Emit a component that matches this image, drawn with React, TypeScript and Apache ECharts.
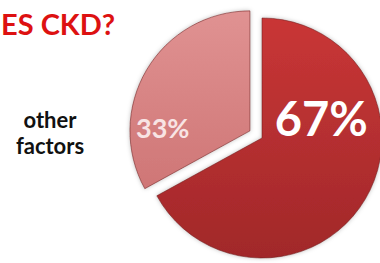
import React, { useEffect, useRef } from "react";
import * as echarts from "echarts";

const categories = ["CKD factor", "other factors"];
const values = [67, 33];
const sideLabel = ["other", "factors"];
const titleText = "ES CKD?";

export default function App() {
  const ref = useRef<HTMLDivElement>(null);
  useEffect(() => {
    if (!ref.current) return;
    const chart = echarts.init(ref.current, null, { renderer: "svg" });
    const labelShift = [
      { dx: 5, dy: -52 },
      { dx: -33, dy: 29 },
    ];
    const fontSizes = [47, 27];
    const fills = [
      new echarts.graphic.LinearGradient(0, 0, 0, 1, [
        { offset: 0, color: "#C93636" },
        { offset: 1, color: "#A1282A" },
      ]),
      new echarts.graphic.LinearGradient(0, 0, 0, 1, [
        { offset: 0, color: "#E09292" },
        { offset: 1, color: "#CF7676" },
      ]),
    ];
    const total = values.reduce((a, b) => a + b, 0);
    chart.setOption({
      animation: false,
      graphic: [
        {
          type: "text",
          left: 1,
          top: 9,
          style: {
            text: titleText,
            fill: "#DD1111",
            font: "bold 29px Lato, 'Open Sans', sans-serif",
          },
        },
        {
          type: "text",
          x: 50,
          y: 106,
          style: {
            text: sideLabel.join("\n"),
            fill: "#111111",
            font: "bold 22px Lato, 'Open Sans', sans-serif",
            lineHeight: 26,
            align: "center",
          },
        },
      ],
      series: [
        {
          type: "pie",
          center: [262, 138],
          radius: 120,
          startAngle: 90,
          clockwise: true,
          selectedMode: "single",
          selectedOffset: 14,
          emphasis: { disabled: true },
          itemStyle: {
            borderColor: "rgba(110,30,30,0.55)",
            borderWidth: 1,
            shadowBlur: 4,
            shadowColor: "rgba(0,0,0,0.25)",
          },
          labelLine: { show: false },
          label: {
            show: true,
            position: "inside",
            color: "#FFFFFF",
            fontFamily: "Lato, 'Open Sans', sans-serif",
            formatter: (p: any) => Math.round((p.value / total) * 100) + "%",
          },
          labelLayout: (p: any) => labelShift[p.dataIndex],
          data: categories.map((name, i) => ({
            name,
            value: values[i],
            selected: i === 1,
            itemStyle: { color: fills[i] },
            label: {
              fontSize: fontSizes[i],
              fontWeight: "bold",
              color: i === 0 ? "#FFFFFF" : "#F8E4E4",
            },
          })),
        },
      ],
    });
    return () => chart.dispose();
  }, []);
  return (
    <div
      ref={ref}
      style={{ position: "fixed", left: 0, top: 0, width: 380, height: 263, background: "#fff" }}
    />
  );
}
